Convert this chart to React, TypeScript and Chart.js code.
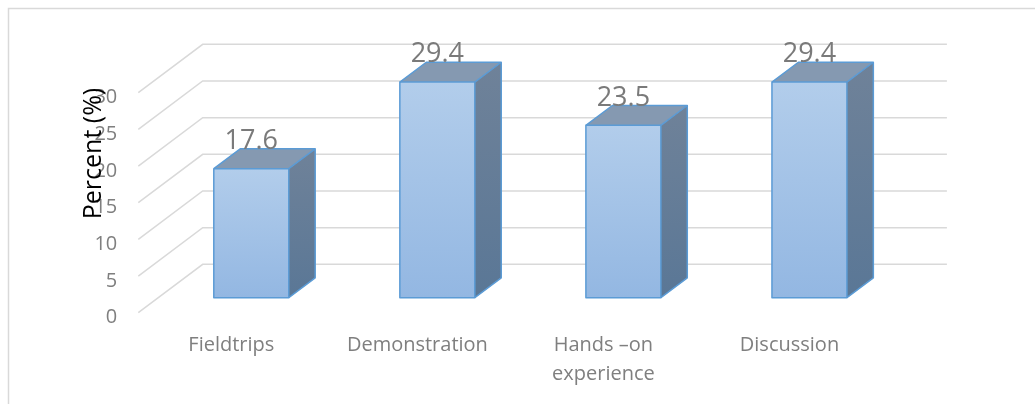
import React, { useEffect, useRef } from 'react';
import { Chart, registerables } from 'chart.js';

Chart.register(...registerables);

// ---- data ----
const categories: string[][] = [['Fieldtrips'], ['Demonstration'], ['Hands –on', 'experience'], ['Discussion']];
const percentValues: number[] = [17.6, 29.4, 23.5, 29.4];
const yMin = 0;
const yMax = 30;
const yStep = 5;
const yTitle = 'Percent (%)';

// ---- 3D geometry / style ----
const DX = 64.4;
const DY = -48.4;
const FRONT = 0.31;
const BACK = 0.72;
const FONT = '"Open Sans", sans-serif';
const GREY = '#7F7F7F';
const GRID = '#D9D9D9';
const EDGE = '#5B9BD5';

const threeDPlugin = {
  id: 'threeD',
  beforeDraw(chart: any) {
    const { ctx, chartArea: a, scales } = chart;
    const y = scales.y;
    ctx.save();
    ctx.strokeStyle = GRID;
    ctx.lineWidth = 1.5;
    ctx.strokeRect(8.5, 8.5, 1200, 800);
    y.ticks.forEach((t: any) => {
      const py = y.getPixelForValue(t.value);
      ctx.beginPath();
      ctx.moveTo(a.left, py);
      ctx.lineTo(a.left + DX, py + DY);
      ctx.lineTo(a.right + DX, py + DY);
      ctx.stroke();
    });
    ctx.restore();
  },
  afterDatasetsDraw(chart: any) {
    const { ctx } = chart;
    const meta = chart.getDatasetMeta(0);
    const ddx = (BACK - FRONT) * DX;
    const ddy = (BACK - FRONT) * DY;
    meta.data.forEach((bar: any, i: number) => {
      const { x, y, base, width } = bar.getProps(['x', 'y', 'base', 'width'], true);
      const L = x - width / 2 + FRONT * DX;
      const R = x + width / 2 + FRONT * DX;
      const T = y + FRONT * DY;
      const B = base + FRONT * DY;
      ctx.save();
      const gf = ctx.createLinearGradient(0, T, 0, B);
      gf.addColorStop(0, '#B2CDEB');
      gf.addColorStop(1, '#93B7E2');
      ctx.fillStyle = gf;
      ctx.fillRect(L, T, R - L, B - T);
      const gs = ctx.createLinearGradient(0, T + ddy, 0, B);
      gs.addColorStop(0, '#6F8299');
      gs.addColorStop(1, '#5A7796');
      ctx.fillStyle = gs;
      ctx.beginPath();
      ctx.moveTo(R, T);
      ctx.lineTo(R + ddx, T + ddy);
      ctx.lineTo(R + ddx, B + ddy);
      ctx.lineTo(R, B);
      ctx.closePath();
      ctx.fill();
      ctx.fillStyle = '#8599B1';
      ctx.beginPath();
      ctx.moveTo(L, T);
      ctx.lineTo(L + ddx, T + ddy);
      ctx.lineTo(R + ddx, T + ddy);
      ctx.lineTo(R, T);
      ctx.closePath();
      ctx.fill();
      ctx.strokeStyle = EDGE;
      ctx.lineWidth = 1.5;
      ctx.lineJoin = 'round';
      ctx.strokeRect(L, T, R - L, B - T);
      ctx.beginPath();
      ctx.moveTo(L, T);
      ctx.lineTo(L + ddx, T + ddy);
      ctx.lineTo(R + ddx, T + ddy);
      ctx.lineTo(R + ddx, B + ddy);
      ctx.lineTo(R, B);
      ctx.moveTo(R, T);
      ctx.lineTo(R + ddx, T + ddy);
      ctx.stroke();
      ctx.fillStyle = '#7A7A7A';
      ctx.font = `27px ${FONT}`;
      ctx.textAlign = 'center';
      ctx.textBaseline = 'alphabetic';
      ctx.fillText(String(percentValues[i]), (L + R) / 2, T + ddy);
      ctx.restore();
    });
  },
  afterDraw(chart: any) {
    const { ctx } = chart;
    ctx.save();
    ctx.translate(94, 153.5);
    ctx.rotate(-Math.PI / 2);
    ctx.fillStyle = '#000000';
    ctx.font = `25px ${FONT}`;
    ctx.textAlign = 'center';
    ctx.textBaseline = 'middle';
    ctx.fillText(yTitle, 0, 0);
    ctx.restore();
  },
};

export default function App() {
  const canvasRef = useRef<HTMLCanvasElement | null>(null);

  useEffect(() => {
    if (!canvasRef.current) return;
    const chart = new Chart(canvasRef.current, {
      type: 'bar',
      data: {
        labels: categories,
        datasets: [
          {
            label: 'Percent',
            data: percentValues,
            backgroundColor: 'rgba(0,0,0,0)',
            borderWidth: 0,
            barPercentage: 0.403,
            categoryPercentage: 1,
          },
        ],
      },
      options: {
        responsive: false,
        animation: false,
        events: [],
        layout: { padding: { top: 92.7, left: 78.3, right: 152.5, bottom: 1.3 } },
        plugins: {
          legend: { display: false },
          title: { display: false },
          tooltip: { enabled: false },
        },
        scales: {
          x: {
            grid: { display: false },
            border: { display: false },
            ticks: {
              color: GREY,
              padding: 10,
              maxRotation: 0,
              font: { family: FONT, size: 20, lineHeight: 1.45 },
            },
            afterFit: (s: any) => {
              s.height = 90;
            },
          },
          y: {
            min: yMin,
            max: yMax,
            grid: { display: false, drawTicks: false },
            border: { display: false },
            ticks: {
              stepSize: yStep,
              color: GREY,
              padding: 21,
              labelOffset: 5,
              font: { family: FONT, size: 20 },
            },
            afterFit: (s: any) => {
              s.width = 60;
            },
          },
        },
      },
      plugins: [threeDPlugin],
    });
    return () => chart.destroy();
  }, []);

  return (
    <div style={{ position: 'fixed', left: 0, top: 0, width: 1035, height: 404, background: '#fff' }}>
      <canvas ref={canvasRef} width={1035} height={404} style={{ display: 'block' }} />
    </div>
  );
}
